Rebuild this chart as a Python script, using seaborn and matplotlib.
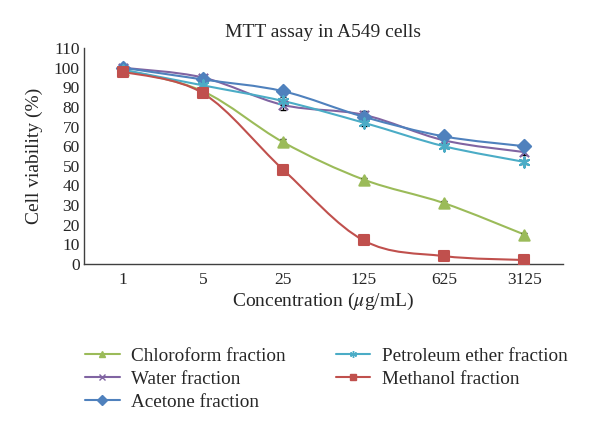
import numpy as np
import pandas as pd
import matplotlib
matplotlib.use("Agg")
import matplotlib.pyplot as plt
from matplotlib.path import Path
from matplotlib.patches import PathPatch
from matplotlib.lines import Line2D
import seaborn as sns

concentrations = ["1", "5", "25", "125", "625", "3125"]
chloroform = [99, 88, 62, 43, 31, 15]
water = [100, 95, 81, 76, 63, 57]
acetone = [100, 94, 88, 75, 65, 60]
petroleum = [99, 91, 83, 72, 60, 52]
methanol = [98, 87, 48, 12, 4, 2]
err_chloroform = [1.5, 1, 1.5, 1, 1, 1]
err_water = [1.5, 1.5, 2.5, 2, 1.5, 1.5]
err_acetone = [1.5, 1, 1.5, 1.5, 1, 1]
err_petroleum = [1.5, 1, 2, 1.5, 1, 1]
err_methanol = [1.5, 1, 1, 1, 1, 1]

series = [
    ("Chloroform fraction", chloroform, err_chloroform, "#9BBB59", "^", 55),
    ("Water fraction", water, err_water, "#8064A2", "x", 45),
    ("Acetone fraction", acetone, err_acetone, "#4F81BD", "D", 45),
    ("Petroleum ether fraction", petroleum, err_petroleum, "#4BACC6", (6, 2, 0), 55),
    ("Methanol fraction", methanol, err_methanol, "#C0504D", "s", 55),
]

rows = []
for name, vals, errs, c, m, sz in series:
    for i, (cc, v) in enumerate(zip(concentrations, vals)):
        rows.append({"Concentration": cc, "pos": i, "Viability": v, "Series": name})
df = pd.DataFrame(rows)

sns.set_style("white")
plt.rcParams['font.family'] = ['Liberation Serif', 'DejaVu Serif']
plt.rcParams['mathtext.fontset'] = 'stix'

fig = plt.figure(figsize=(6, 4.37), dpi=100)
ax = fig.add_axes([0.14, 0.396, 0.798, 0.494])


def smooth_path(xs, ys, t=1/6):
    # Catmull-Rom style bezier (like spreadsheet smoothed lines)
    n = len(xs)
    verts = [(xs[0], ys[0])]
    codes = [Path.MOVETO]
    for i in range(n - 1):
        x0, y0 = (xs[i - 1], ys[i - 1]) if i > 0 else (xs[i], ys[i])
        x1, y1 = xs[i], ys[i]
        x2, y2 = xs[i + 1], ys[i + 1]
        x3, y3 = (xs[i + 2], ys[i + 2]) if i + 2 < n else (x2, y2)
        c1 = (x1 + (x2 - x0) * t, y1 + (y2 - y0) * t)
        c2 = (x2 - (x3 - x1) * t, y2 - (y3 - y1) * t)
        verts += [c1, c2, (x2, y2)]
        codes += [Path.CURVE4] * 3
    return Path(verts, codes)

handles = []
for name, vals, errs, c, m, sz in series:
    sub = df[df["Series"] == name]
    xs = list(sub["pos"])
    ax.add_patch(PathPatch(smooth_path(xs, vals), facecolor="none",
                           edgecolor=c, lw=1.5, zorder=2))
    ax.errorbar(xs, vals, yerr=errs, fmt="none", ecolor="black",
                elinewidth=1, capsize=2.5, zorder=3)
    sns.scatterplot(x=xs, y=vals, marker=m, ax=ax, zorder=4, legend=False,
                    s=sz, color=c, edgecolor=c, linewidth=1.5)
    handles.append(Line2D([0], [0], color=c, lw=1.5, marker=m,
                          markersize=5, markeredgecolor=c, label=name))

ax.set_xlim(-0.48, 5.48)
ax.set_ylim(0, 110)
ax.set_xticks(range(len(concentrations)))
ax.set_xticklabels(concentrations)
ax.set_yticks(np.arange(0, 111, 10))
ax.tick_params(axis="both", length=0, labelsize=12.5, pad=6)
ax.tick_params(axis="y", pad=3)
for s in ["top", "right"]:
    ax.spines[s].set_visible(False)
for s in ["left", "bottom"]:
    ax.spines[s].set_color("#404040")
    ax.spines[s].set_linewidth(1)
ax.set_xlabel("Concentration ($\\mathit{\\mu}$g/mL)", fontsize=14, labelpad=2)
ax.set_ylabel("Cell viability (%)", fontsize=14, labelpad=8)
ax.set_title("MTT assay in A549 cells", fontsize=14, pad=8)

leg = fig.legend(handles=handles, loc="upper left", bbox_to_anchor=(0.113, 0.245),
                 ncol=2, frameon=False, fontsize=13.8, handlelength=1.8,
                 columnspacing=2.6, labelspacing=0.3, handletextpad=0.6)

fig.savefig("out.png", dpi=100)
